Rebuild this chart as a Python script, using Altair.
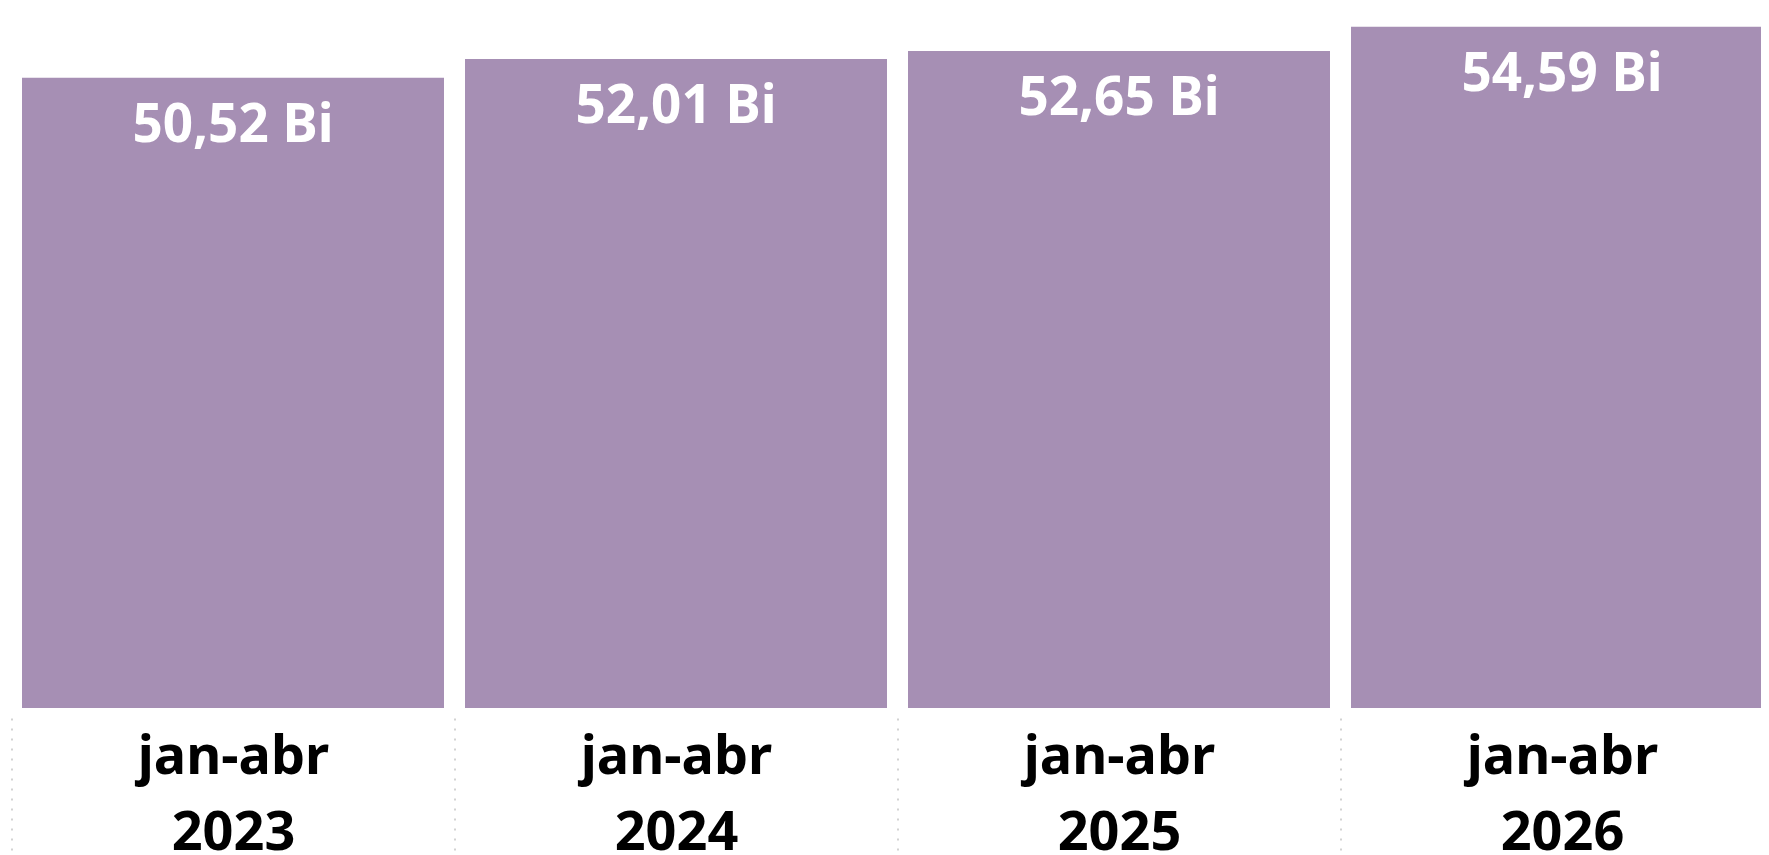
import altair as alt
import pandas as pd

categories = ["jan-abr 2023", "jan-abr 2024", "jan-abr 2025", "jan-abr 2026"]
values = [50.52, 52.01, 52.65, 54.59]

df = pd.DataFrame({"periodo": categories, "valor": values})

FONT = "Noto Sans"
BAR_COLOR = "#A68FB4"

x_enc = alt.X(
    "periodo:N",
    sort=categories,
    scale=alt.Scale(paddingInner=0, paddingOuter=0),
    axis=alt.Axis(
        title=None,
        domain=False,
        ticks=True,
        tickBand="extent",
        tickSize=140,
        tickDash=[2, 8],
        tickColor="#c4c4c4",
        tickWidth=1.5,
        offset=10,
        labelAngle=0,
        labelFont=FONT,
        labelFontSize=54,
        labelFontWeight="bold",
        labelColor="#000000",
        labelBaseline="alphabetic",
        labelPadding=-85,
        labelLineHeight=76,
        labelLimit=0,
        labelOverlap=False,
        labelExpr="split(datum.label, ' ')",
    ),
)
y_enc = alt.Y("valor:Q", scale=alt.Scale(domain=[0, 56.1], nice=False, zero=True), axis=None)

base = alt.Chart(df).encode(x=x_enc, y=y_enc)

bars = base.mark_bar(color=BAR_COLOR, width=alt.RelativeBandSize(0.9526))

text = base.transform_calculate(
    rotulo="replace(format(datum.valor, '.2f'), '.', ',') + ' Bi'"
).mark_text(
    font=FONT,
    fontSize=53,
    fontWeight="bold",
    color="white",
    baseline="alphabetic",
    align="center",
    dy=64,
).encode(text="rotulo:N")

chart = (
    alt.layer(bars, text)
    .properties(
        width=1772,
        height=700,
        background="white",
        autosize=alt.AutoSizeParams(type="none"),
        padding={"left": 3.5, "top": 0, "right": -22.5, "bottom": 147},
    )
    .configure_view(stroke="transparent", strokeWidth=0)
)

chart.save("out.html", embed_options={"renderer": "svg", "actions": False})
